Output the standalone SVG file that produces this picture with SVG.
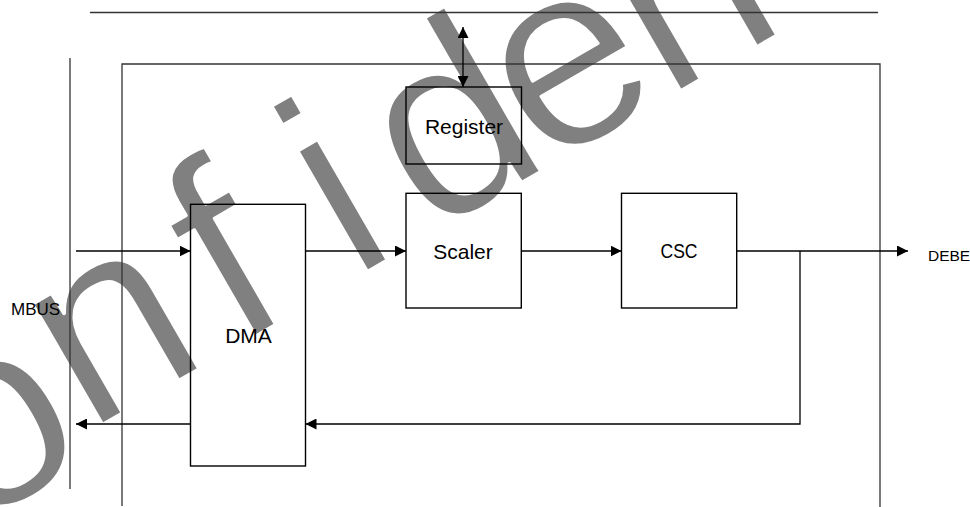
<svg xmlns="http://www.w3.org/2000/svg" width="970" height="507" viewBox="0 0 970 507">
  <defs>
    <marker id="ah" viewBox="0 0 11 11" refX="11" refY="5.5" markerWidth="11" markerHeight="11" markerUnits="userSpaceOnUse" orient="auto-start-reverse">
      <path d="M0,0 L11,5.5 L0,11 z" fill="#000"/>
    </marker>
    <style>
      .wm { font-family: "Liberation Sans", Arial, sans-serif; font-size: 264px; fill: #808080; stroke: #fff; stroke-width: 3.5; stroke-linejoin: round; }
      .frame { fill: none; stroke: #333; stroke-width: 1.3; }
      .box { fill: none; stroke: #000; stroke-width: 1.4; }
      .conn { fill: none; stroke: #000; stroke-width: 1.3; }
      .lbl { font-family: "Liberation Sans", Arial, sans-serif; font-size: 21px; fill: #000; text-anchor: middle; }
      .side { font-family: "Liberation Sans", Arial, sans-serif; fill: #000; }
    </style>
  </defs>
  <rect width="970" height="507" fill="#fff"/>

  <g id="watermark" transform="rotate(-30)">
    <text class="wm" x="-490 -292 -141.8 30 164.6 253 385 525.6" y="419 444 419 419 419 419 419 419">Confiden</text>
  </g>

  <g id="frame">
    <path class="frame" d="M90,12.5 H878"/>
    <path class="frame" d="M70,58 V489"/>
    <path class="frame" d="M122,506 V64 H880 V507"/>
  </g>

  <g id="connectors">
    <path class="conn" d="M76,251 H190.5" marker-end="url(#ah)"/>
    <path class="conn" d="M305.5,251 H406" marker-end="url(#ah)"/>
    <path class="conn" d="M521,251 H621.5" marker-end="url(#ah)"/>
    <path class="conn" d="M736.5,251 H908" marker-end="url(#ah)"/>
    <path class="conn" d="M800,251 V424 H305.5" marker-end="url(#ah)"/>
    <path class="conn" d="M190.5,424 H76" marker-end="url(#ah)"/>
    <path class="conn" d="M463,27 V87" marker-start="url(#ah)" marker-end="url(#ah)"/>
  </g>

  <g id="register">
    <rect class="box" x="406" y="87" width="115.5" height="77"/>
    <text class="lbl" x="464" y="133.5">Register</text>
  </g>
  <g id="scaler">
    <rect class="box" x="406" y="193.3" width="115.3" height="114.7"/>
    <text class="lbl" x="463" y="258.7">Scaler</text>
  </g>
  <g id="csc">
    <rect class="box" x="621.5" y="193.3" width="115.2" height="114.7"/>
    <text class="lbl" x="679" y="258.3" textLength="37" lengthAdjust="spacingAndGlyphs">CSC</text>
  </g>
  <g id="dma">
    <rect class="box" x="190.5" y="204.3" width="115" height="261.7"/>
    <text class="lbl" x="248.5" y="343.3">DMA</text>
  </g>
  <g id="mbus">
    <text class="side" x="11" y="315" font-size="17">MBUS</text>
  </g>
  <g id="debe">
    <text class="side" x="928" y="260.7" font-size="15.5">DEBE</text>
  </g>
</svg>
